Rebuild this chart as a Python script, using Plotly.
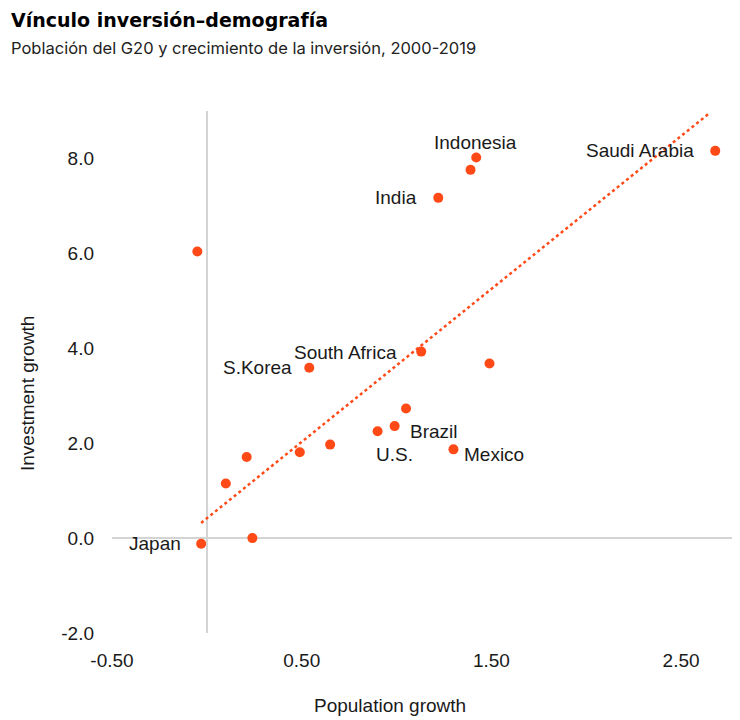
import plotly.graph_objects as go

# Data
countries = ["Japan", "", "", "", "", "", "", "S.Korea", "U.S.", "Brazil", "",
             "South Africa", "", "Mexico", "India", "", "Indonesia", "Saudi Arabia"]
pop_growth = [-0.03, 0.24, -0.05, 0.10, 0.21, 0.49, 0.65, 0.54, 0.90, 0.99, 1.05,
              1.13, 1.49, 1.30, 1.22, 1.39, 1.42, 2.68]
inv_growth = [-0.12, 0.00, 6.04, 1.15, 1.71, 1.81, 1.97, 3.59, 2.25, 2.36, 2.73,
              3.93, 3.68, 1.87, 7.17, 7.76, 8.02, 8.16]

trend_x = [-0.03, 2.645]
trend_y = [0.32, 8.94]

x_ticks = [-0.5, 0.5, 1.5, 2.5]
x_tick_labels = ["-0.50", "0.50", "1.50", "2.50"]
y_ticks = [-2, 0, 2, 4, 6, 8]
y_tick_labels = ["-2.0", "0.0", "2.0", "4.0", "6.0", "8.0"]

title = "Vínculo inversión–demografía"
subtitle = "Población del G20 y crecimiento de la inversión, 2000-2019"
x_title = "Population growth"
y_title = "Investment growth"

# label placement styles: name -> (xanchor, xshift, yshift)
label_style = {
    "Japan": ("right", -18, 0),
    "S.Korea": ("right", -15, 0),
    "U.S.": ("left", -4, -23),
    "Brazil": ("left", 13, -5),
    "South Africa": ("right", -22, -1),
    "Mexico": ("left", 9, -5),
    "India": ("right", -19, 0),
    "Indonesia": ("center", -1, 15),
    "Saudi Arabia": ("right", -19, 0),
}

ORANGE = "#FF4A17"
TXT = "#1a1a1a"
FONT = "Liberation Sans"

fig = go.Figure()
fig.add_trace(go.Scatter(
    x=trend_x, y=trend_y, mode="lines",
    line=dict(color=ORANGE, width=2.5, dash="dot"),
    hoverinfo="skip", showlegend=False))
fig.add_trace(go.Scatter(
    x=pop_growth, y=inv_growth, mode="markers",
    text=countries,
    marker=dict(color=ORANGE, size=10),
    showlegend=False))

# page body adds an 8px offset; size the figure so it fills the 740x720 window
OFF = 8
W, H = 740 - OFF, 720 - OFF
ml, mr, mt = 112 - OFF, 2, 111 - OFF
mb = H - (633 - OFF)
pw, ph = W - ml - mr, H - mt - mb


def px(xpix):
    return (xpix - OFF - ml) / pw


def py(ypix):
    return (H - mb - (ypix - OFF)) / ph


annotations = []
for name, xv, yv in zip(countries, pop_growth, inv_growth):
    if not name:
        continue
    xa, xs, ys = label_style[name]
    annotations.append(dict(
        x=xv, y=yv, xref="x", yref="y", text=name, showarrow=False,
        xanchor=xa, yanchor="middle", xshift=xs, yshift=ys,
        font=dict(family=FONT, size=19, color=TXT)))

annotations += [
    dict(text="<b>" + title + "</b>", xref="paper", yref="paper",
         x=px(9), y=py(20.5), xanchor="left", yanchor="middle",
         showarrow=False, font=dict(family="DejaVu Sans", size=19, color="#000")),
    dict(text=subtitle, xref="paper", yref="paper",
         x=px(9), y=py(48), xanchor="left", yanchor="middle",
         showarrow=False, font=dict(family="Inter", size=16.5, color="#222")),
    dict(text=x_title, xref="paper", yref="paper",
         x=px(390), y=py(705), xanchor="center", yanchor="middle",
         showarrow=False, font=dict(family=FONT, size=19, color=TXT)),
    dict(text=y_title, xref="paper", yref="paper", textangle=-90,
         x=px(27), y=py(394), xanchor="center", yanchor="middle",
         showarrow=False, font=dict(family=FONT, size=19, color=TXT)),
]

fig.update_layout(
    width=W, height=H,
    margin=dict(l=ml, r=mr, t=mt, b=mb),
    paper_bgcolor="white", plot_bgcolor="white",
    font=dict(family=FONT, size=19, color=TXT),
    xaxis=dict(range=[-0.5, 2.8], tickvals=x_ticks, ticktext=x_tick_labels,
               showgrid=False, zeroline=True, zerolinecolor="#d4d4d4", zerolinewidth=2,
               showline=False, ticks="", ticklabelstandoff=14, automargin=False,
               tickfont=dict(family=FONT, size=19, color=TXT)),
    yaxis=dict(range=[-2, 9], tickvals=y_ticks, ticktext=y_tick_labels,
               showgrid=False, zeroline=True, zerolinecolor="#d4d4d4", zerolinewidth=2,
               showline=False, ticks="", ticklabelstandoff=17, automargin=False,
               tickfont=dict(family=FONT, size=19, color=TXT)),
    annotations=annotations,
)

fig.write_html("out.html")
